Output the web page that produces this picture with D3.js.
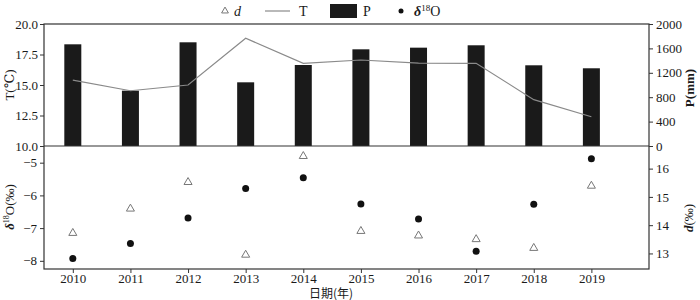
<!DOCTYPE html>
<html>
<head>
<meta charset="utf-8">
<script src="https://cdn.jsdelivr.net/npm/d3@7"></script>
<style>
  body { margin: 0; background: #fff; }
  text { font-family: "Liberation Serif", "DejaVu Serif", serif; fill: #1a1a1a; }
</style>
</head>
<body>
<div id="chart-area"></div>
<script>
// Data
var years = [2010, 2011, 2012, 2013, 2014, 2015, 2016, 2017, 2018, 2019];
var precip = [1667, 907, 1700, 1044, 1328, 1585, 1612, 1651, 1323, 1274];
var temp = [15.4, 14.53, 15.0, 18.83, 16.78, 17.05, 16.8, 16.78, 13.8, 12.4];
var d18O = [-7.93, -7.47, -6.69, -5.79, -5.46, -6.26, -6.72, -7.71, -6.27, -4.88];
var dExcess = [13.72, 14.58, 15.52, 12.95, 16.44, 13.79, 13.63, 13.5, 13.19, 15.39];

var tTicks = [10, 12.5, 15, 17.5, 20];
var pTicks = [0, 400, 800, 1200, 1600, 2000];
var oTicks = [-8, -7, -6, -5];
var dTicks = [13, 14, 15, 16];

var left = 44, right = 649;
var topY = 24, midY = 146, botY = 269;

var svg = d3.select("#chart-area")
  .append("svg")
    .attr("width", 700)
    .attr("height", 300);

var x = d3.scaleLinear().domain([2009.5, 2020]).range([left, right]);
var yT = d3.scaleLinear().domain([10, 20]).range([midY, topY]);
var yP = d3.scaleLinear().domain([0, 2000]).range([midY, topY]);
var yO = d3.scaleLinear().domain([-8.25, -4.49]).range([botY, midY]);
var yD = d3.scaleLinear().domain([12.45, 16.8]).range([botY, midY]);

var barW = 17;

// Bars (P)
svg.selectAll("rect.bar")
  .data(years)
  .enter()
  .append("rect")
    .attr("class", "bar")
    .attr("x", (yr) => x(yr) - barW / 2)
    .attr("width", barW)
    .attr("y", (yr, i) => yP(precip[i]))
    .attr("height", (yr, i) => midY - yP(precip[i]))
    .attr("fill", "#1a1a1a");

// T line
var line = d3.line()
  .x((v, i) => x(years[i]))
  .y((v) => yT(v));

svg.append("path")
  .datum(temp)
  .attr("d", line)
  .attr("fill", "none")
  .attr("stroke", "#8a8a8a")
  .attr("stroke-width", 1.2);

// d triangles
var tri = d3.symbol().type(d3.symbolTriangle).size(28);
svg.selectAll("path.tri")
  .data(dExcess)
  .enter()
  .append("path")
    .attr("class", "tri")
    .attr("d", tri)
    .attr("transform", (v, i) => "translate(" + x(years[i]) + "," + yD(v) + ")")
    .attr("fill", "#fff")
    .attr("stroke", "#777")
    .attr("stroke-width", 1);

// d18O dots
svg.selectAll("circle.dot")
  .data(d18O)
  .enter()
  .append("circle")
    .attr("class", "dot")
    .attr("cx", (v, i) => x(years[i]))
    .attr("cy", (v) => yO(v))
    .attr("r", 3.5)
    .attr("fill", "#111");

// Frames
svg.append("rect")
  .attr("x", left).attr("y", topY)
  .attr("width", right - left).attr("height", botY - topY)
  .attr("fill", "none").attr("stroke", "#333").attr("stroke-width", 1.2);
svg.append("line")
  .attr("x1", left).attr("x2", right)
  .attr("y1", midY).attr("y2", midY)
  .attr("stroke", "#333").attr("stroke-width", 1.2);

// Axes
function styleAxis(gr) {
  gr.select(".domain").remove();
  gr.selectAll("line").attr("stroke", "#333");
  gr.selectAll("text")
    .style("font-family", "'Liberation Serif', serif")
    .attr("font-size", "13px")
    .attr("fill", "#1a1a1a");
}

svg.append("g")
  .attr("transform", "translate(" + left + ",0)")
  .call(d3.axisLeft(yT).tickValues(tTicks).tickFormat(d3.format(".1f")).tickSize(4).tickPadding(2))
  .call(styleAxis);

svg.append("g")
  .attr("transform", "translate(" + right + ",0)")
  .call(d3.axisRight(yP).tickValues(pTicks).tickFormat(d3.format("d")).tickSize(4).tickPadding(3))
  .call(styleAxis);

svg.append("g")
  .attr("transform", "translate(" + left + ",0)")
  .call(d3.axisLeft(yO).tickValues(oTicks).tickFormat((v) => "\u2212" + Math.abs(v)).tickSize(4).tickPadding(3))
  .call(styleAxis);

svg.append("g")
  .attr("transform", "translate(" + right + ",0)")
  .call(d3.axisRight(yD).tickValues(dTicks).tickFormat(d3.format("d")).tickSize(4).tickPadding(3))
  .call(styleAxis);

svg.append("g")
  .attr("transform", "translate(0," + botY + ")")
  .call(d3.axisBottom(x).tickValues(years).tickFormat(d3.format("d")).tickSize(4).tickPadding(1))
  .call(styleAxis);

// Axis titles
svg.append("text")
  .attr("transform", "translate(14,85) rotate(-90)")
  .attr("text-anchor", "middle")
  .attr("font-size", "13px")
  .text("T(℃)");

var oTitle = svg.append("text")
  .attr("transform", "translate(14,207) rotate(-90)")
  .attr("text-anchor", "middle")
  .attr("font-size", "13px");
oTitle.append("tspan").attr("font-style", "italic").attr("font-weight", "bold").text("δ");
oTitle.append("tspan").attr("font-size", "8px").attr("dy", -5).text("18");
oTitle.append("tspan").attr("dy", 5).text("O(‰)");

svg.append("text")
  .attr("transform", "translate(694,88) rotate(-90)")
  .attr("text-anchor", "middle")
  .attr("font-size", "13px")
  .attr("font-weight", "bold")
  .text("P(mm)");

var dTitle = svg.append("text")
  .attr("transform", "translate(693,218) rotate(-90)")
  .attr("text-anchor", "middle")
  .attr("font-size", "13px");
dTitle.append("tspan").attr("font-style", "italic").attr("font-weight", "bold").text("d");
dTitle.append("tspan").text("(‰)");

svg.append("text")
  .attr("x", 331)
  .attr("y", 298)
  .attr("text-anchor", "middle")
  .attr("font-size", "12px")
  .style("font-family", "'Noto Sans CJK SC', sans-serif")
  .text("日期(年)");

// Legend
var lg = svg.append("g");
lg.append("path")
  .attr("d", d3.symbol().type(d3.symbolTriangle).size(20))
  .attr("transform", "translate(225,11)")
  .attr("fill", "#fff").attr("stroke", "#777");
lg.append("text").attr("x", 234).attr("y", 16).attr("font-size", "14px")
  .attr("font-style", "italic").text("d");

lg.append("line").attr("x1", 265).attr("x2", 290).attr("y1", 11).attr("y2", 11)
  .attr("stroke", "#8a8a8a").attr("stroke-width", 1.2);
lg.append("text").attr("x", 299).attr("y", 16).attr("font-size", "14px").text("T");

lg.append("rect").attr("x", 330).attr("y", 4).attr("width", 27).attr("height", 14)
  .attr("fill", "#1a1a1a");
lg.append("text").attr("x", 363).attr("y", 16).attr("font-size", "14px").text("P");

lg.append("circle").attr("cx", 401).attr("cy", 11).attr("r", 2.5).attr("fill", "#111");
var lo = lg.append("text").attr("x", 414).attr("y", 16).attr("font-size", "14px");
lo.append("tspan").attr("font-style", "italic").attr("font-weight", "bold").text("δ");
lo.append("tspan").attr("font-size", "9px").attr("dy", -5).text("18");
lo.append("tspan").attr("dy", 5).text("O");
</script>
</body>
</html>
